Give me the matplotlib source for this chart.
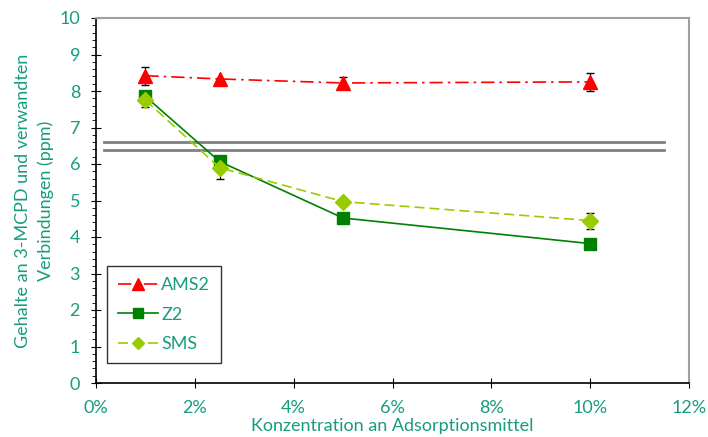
import matplotlib
matplotlib.use("Agg")
import matplotlib.pyplot as plt
from matplotlib.ticker import MultipleLocator, PercentFormatter
from matplotlib.lines import Line2D

plt.rcParams['font.family'] = ['Lato', 'DejaVu Sans']

conc = [1, 2.5, 5, 10]
ams2 = [8.42, 8.33, 8.22, 8.25]
ams2_err = [0.25, 0.0, 0.15, 0.25]
z2 = [7.85, 6.07, 4.52, 3.82]
z2_err = [0.12, 0.0, 0.15, 0.0]
sms = [7.75, 5.9, 4.97, 4.45]
sms_err = [0.2, 0.3, 0.0, 0.22]
limits = [6.6, 6.38]
limit_x = [0.16, 11.5]
labels = ['AMS2', 'Z2', 'SMS']

teal = '#179C7D'
fig = plt.figure(figsize=(7.08, 4.37), dpi=100)
ax = fig.add_axes([96/708, 1-383/437, (689-96)/708, (383-18)/437])

ams_ls = (0, (8, 3, 1.5, 3))
sms_ls = (0, (6, 3))
ax.errorbar(conc, ams2, yerr=ams2_err, color='#FF0000', marker='^', markersize=10,
            linestyle=ams_ls, linewidth=1.2, ecolor='black', elinewidth=0.8,
            capsize=3, zorder=4)
ax.errorbar(conc, z2, yerr=z2_err, color='#008000', marker='s', markersize=8,
            linestyle='-', linewidth=1.2, ecolor='black', elinewidth=0.8,
            capsize=3, zorder=3)
ax.errorbar(conc, sms, yerr=sms_err, color='#99CC00', marker='D', markersize=8,
            linestyle=sms_ls, linewidth=1.2, ecolor='black', elinewidth=0.8,
            capsize=3, zorder=3)
for v in limits:
    ax.plot(limit_x, [v, v], color='#808080', linewidth=2, zorder=2)

ax.set_xlim(0, 12)
ax.set_ylim(0, 10)
ax.xaxis.set_major_locator(MultipleLocator(2))
ax.xaxis.set_major_formatter(PercentFormatter(decimals=0))
ax.yaxis.set_major_locator(MultipleLocator(1))
ax.yaxis.set_minor_locator(MultipleLocator(0.2))
ax.tick_params(axis='y', which='major', direction='inout', length=7, colors='black', labelcolor=teal, labelsize=13, pad=8)
ax.tick_params(axis='y', which='minor', direction='out', length=3, colors='black')
ax.tick_params(axis='x', which='major', direction='inout', length=7, colors='black', labelcolor=teal, labelsize=13, pad=9)
for s in ['top', 'right']:
    ax.spines[s].set_color('#A0A0A0')
    ax.spines[s].set_linewidth(1.5)
ax.spines['left'].set_linewidth(1.2)
ax.spines['bottom'].set_linewidth(1.2)

ax.set_xlabel('Konzentration an Adsorptionsmittel', color=teal, fontsize=13, labelpad=1)
ax.set_ylabel('Gehalte an 3-MCPD und verwandten\nVerbindungen (ppm)', color=teal, fontsize=13,
              labelpad=4, linespacing=1.45)

handles = [
    Line2D([], [], color='#FF0000', marker='^', markersize=8, linestyle=ams_ls, linewidth=1.2),
    Line2D([], [], color='#008000', marker='s', markersize=7, linestyle='-', linewidth=1.2),
    Line2D([], [], color='#99CC00', marker='D', markersize=6, linestyle=sms_ls, linewidth=1.2),
]
leg = ax.legend(handles, labels, loc='lower left', bbox_to_anchor=((107-96)/593, (383-363)/365),
                frameon=True, fancybox=False, edgecolor='black', fontsize=13, labelcolor=teal,
                handlelength=2.2, handletextpad=0.2, borderpad=0.6, labelspacing=0.75,
                borderaxespad=0)
leg.get_frame().set_linewidth(1.0)

fig.savefig('out.png', dpi=100)
